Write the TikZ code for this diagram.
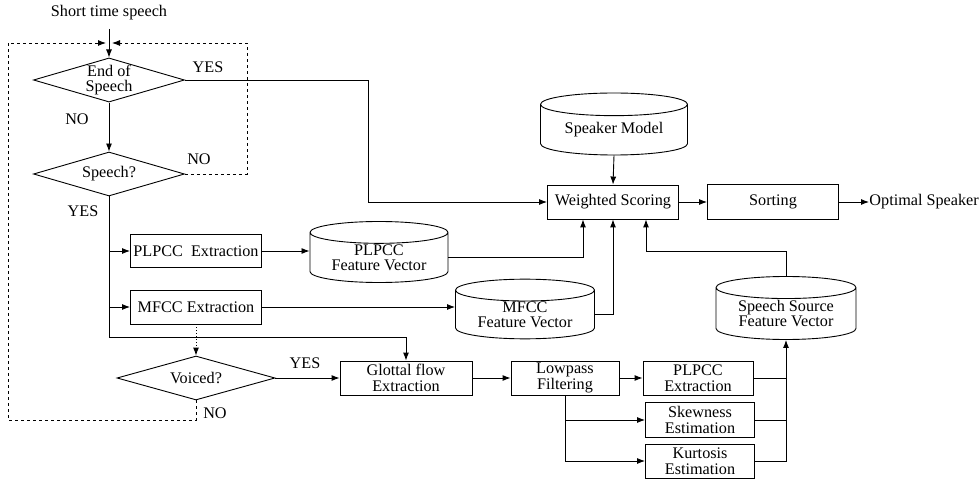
\documentclass[tikz,border=0pt]{standalone}
\usepackage{fontspec}
\setmainfont{Liberation Serif}
\usetikzlibrary{shapes.geometric,arrows.meta}

\begin{document}
\begin{tikzpicture}[x=1pt, y=-1pt, line width=0.9pt, >={Latex[length=8pt,width=6pt]},
	font=\fontsize{16.2}{15.5}\selectfont,
	box/.style={draw, rectangle, align=center, inner sep=0pt},
	decision/.style={draw, diamond, aspect=3.4, inner sep=0pt, align=center},
	store/.style={draw, cylinder, shape border rotate=90, aspect=0.23, inner sep=0pt, align=center, anchor=shape center},
	lbl/.style={inner sep=1pt}]
	\useasboundingbox (0,0) rectangle (980,481);
	\node[inner ysep=8pt] (start) at (109,13) {Short time speech};
	\node[decision, minimum width=151pt, minimum height=44pt] (eos) at (109,80) {End of\\Speech};
	\node[decision, minimum width=151pt, minimum height=44pt] (isspeech) at (109,174) {Speech?};
	\node[box, minimum width=131pt, minimum height=33pt] (plpcc) at (196,251) {PLPCC~~Extraction};
	\node[box, minimum width=131pt, minimum height=34pt] (mfcc) at (196,307) {MFCC Extraction};
	\node[decision, minimum width=158pt, minimum height=44pt] (voiced) at (196,378) {Voiced?};
	\node[box, minimum width=132pt, minimum height=34pt] (glottal) at (406,378) {Glottal flow\\Extraction};
	\node[box, minimum width=108pt, minimum height=34pt] (lowpass) at (565,378) {Lowpass\\Filtering};
	\node[box, minimum width=110pt, minimum height=34pt] (plpccb) at (698,378) {PLPCC\\Extraction};
	\node[box, minimum width=109pt, minimum height=35pt] (skew) at (700,420) {Skewness\\Estimation};
	\node[box, minimum width=109pt, minimum height=34pt] (kurt) at (700,461) {Kurtosis\\Estimation};
	\node[store, minimum width=147pt, minimum height=62pt] (spkmodel) at (614,124) {Speaker Model};
	\node[box, minimum width=131pt, minimum height=34pt] (wscore) at (613,202) {Weighted Scoring};
	\node[box, minimum width=131pt, minimum height=35pt] (sorting) at (773,202) {Sorting};
	\node[anchor=west, inner sep=0pt] (optimal) at (869,202) {Optimal Speaker};
	\node[store, minimum width=138pt, minimum height=61pt] (plpccfv) at (379,252) {PLPCC\\Feature Vector};
	\node[store, minimum width=139pt, minimum height=58pt] (mfccfv) at (525,309) {MFCC\\Feature Vector};
	\node[store, minimum width=140pt, minimum height=63pt] (srcfv) at (786,308) {Speech Source\\Feature Vector};
	\node[lbl] (yes1) at (208,67) {YES};
	\node[lbl] (no1) at (77,119) {NO};
	\node[lbl] (no2) at (199,159) {NO};
	\node[lbl] (yes2) at (83,211) {YES};
	\node[lbl] (yes3) at (305,363) {YES};
	\node[lbl] (no3) at (215,413) {NO};
	\coordinate (inL) at (106,43);
	\coordinate (inR) at (112,43);
	\coordinate (loopL) at (8,420);
	\coordinate (trunk) at (109,337);

	\draw[->] (start.south) -- (eos.north);
	\draw[->] (eos.south) -- (isspeech.north);
	\draw[->] (eos.east) -- ++(183,0) |- (wscore.west);
	\draw[dashed, ->] (isspeech.east) -- ++(62,0) |- (inR);
	\draw[dashed, ->] (voiced.south) |- (loopL) |- (inL);
	\draw[->] (isspeech.south) -- (trunk) -| (glottal.north);
	\draw[->] (trunk |- plpcc.west) -- (plpcc.west);
	\draw[->] (trunk |- mfcc.west) -- (mfcc.west);
	\draw[->] (plpcc.east) -- (plpcc.east -| plpccfv.west);
	\draw[->] (mfcc.east) -- (mfcc.east -| mfccfv.west);
	\draw[dotted, ->] (mfcc.south) -- (voiced.north);
	\draw[->] (voiced.east) -- (glottal.west);
	\draw[->] (glottal.east) -- (lowpass.west);
	\draw[->] (lowpass.east) -- (plpccb.west);
	\draw[->] (lowpass.south) |- (kurt.west);
	\draw[->] (lowpass.south |- skew.west) -- (skew.west);
	\draw (plpccb.east) -- (plpccb.east -| srcfv.south);
	\draw (skew.east) -- (skew.east -| srcfv.south);
	\draw[->] (kurt.east) -| (srcfv.south);
	\draw[->] (srcfv.north) -- ++(0,-25) -| ([xshift=33pt]wscore.south);
	\draw[->] (plpccfv.east) -| ([xshift=-30pt]wscore.south);
	\draw[->] (mfccfv.east) -| (wscore.south);
	\draw[->] (spkmodel.south) -- (wscore.north);
	\draw[->] (wscore.east) -- (sorting.west);
	\draw[->] (sorting.east) -- (optimal.west);
\end{tikzpicture}
\end{document}
